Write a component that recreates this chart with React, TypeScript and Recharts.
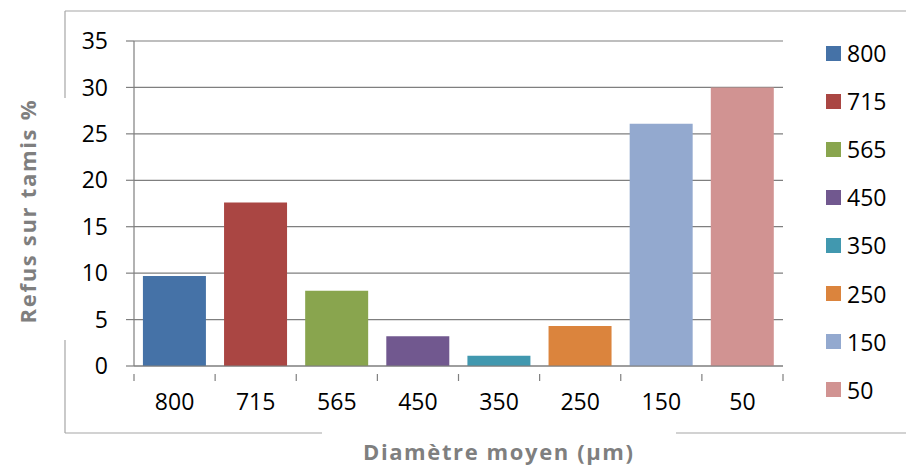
import { BarChart, Bar, Cell, XAxis, YAxis, CartesianGrid } from 'recharts';

// Diamètre moyen des tamis (µm) et refus correspondant (%)
const diametres = ['800', '715', '565', '450', '350', '250', '150', '50'];
const refus = [9.7, 17.6, 8.1, 3.2, 1.1, 4.3, 26.1, 30.0];
const couleurs = ['#4572A7', '#AA4643', '#89A54E', '#71588F', '#4198AF', '#DB843D', '#93A9CF', '#D19392'];
const yTicks = [0, 5, 10, 15, 20, 25, 30, 35];

const data = diametres.map((d, i) => ({ diametre: d, refus: refus[i] }));

const FONT = '"Open Sans", "Liberation Sans", sans-serif';
const AXIS = '#7f7f7f';
const FRAME = '#a6a6a6';
const LABEL_SIZE = 23;

// Label au centre de la catégorie, graduation à la limite entre catégories (style Excel)
function CategoryTick(props: any) {
    const { x, y, payload, index, visibleTicksCount } = props;
    const half = payload?.offset ?? 0;
    const last = index === (visibleTicksCount ?? diametres.length) - 1;
    return (
        <g>
            {half > 0 && <line x1={x - half} x2={x - half} y1={y} y2={y + 7} stroke={AXIS} strokeWidth={1.2} />}
            {half > 0 && last && <line x1={x + half} x2={x + half} y1={y} y2={y + 7} stroke={AXIS} strokeWidth={1.2} />}
            <text x={x} y={y + 36} textAnchor="middle" fontSize={LABEL_SIZE} fontFamily={FONT} fill="#000">
                {payload.value}
            </text>
        </g>
    );
}

export default function App() {
    return (
        <div style={{ position: 'absolute', left: 0, top: 0, width: 906, height: 471, background: '#fff', fontFamily: FONT }}>
            <svg width={906} height={471} style={{ position: 'absolute', left: 0, top: 0 }}>
                <line x1={65} x2={906} y1={11} y2={11} stroke={FRAME} strokeWidth={1.2} />
                <line x1={65} x2={65} y1={11} y2={98} stroke={FRAME} strokeWidth={1.2} />
                <line x1={65} x2={65} y1={340} y2={433} stroke={FRAME} strokeWidth={1.2} />
                <line x1={65} x2={322} y1={433} y2={433} stroke={FRAME} strokeWidth={1.2} />
                <line x1={676} x2={906} y1={433} y2={433} stroke={FRAME} strokeWidth={1.2} />
                <text
                    x={27}
                    y={212}
                    transform="rotate(-90 27 212)"
                    textAnchor="middle"
                    dominantBaseline="central"
                    fontSize={22}
                    fontWeight="bold"
                    fontFamily={FONT}
                    fill="#7f7f7f"
                    textLength={223}
                    lengthAdjust="spacing"
                >
                    Refus sur tamis %
                </text>
                <text
                    x={498}
                    y={451}
                    textAnchor="middle"
                    dominantBaseline="central"
                    fontSize={22}
                    fontWeight="bold"
                    fontFamily={FONT}
                    fill="#7f7f7f"
                    textLength={270}
                    lengthAdjust="spacing"
                >
                    Diamètre moyen (µm)
                </text>
            </svg>

            <div style={{ position: 'absolute', left: 0, top: 0 }}>
                <BarChart
                    width={906}
                    height={471}
                    data={data}
                    margin={{ top: 41, right: 123, left: 0, bottom: 65 }}
                    barCategoryGap="11%"
                >
                    <CartesianGrid vertical={false} stroke={AXIS} strokeWidth={1.2} />
                    <XAxis
                        dataKey="diametre"
                        height={40}
                        axisLine={{ stroke: AXIS, strokeWidth: 1.2 }}
                        tickLine={false}
                        tick={<CategoryTick />}
                        interval={0}
                    />
                    <YAxis
                        width={134}
                        domain={[0, 35]}
                        ticks={yTicks}
                        interval={0}
                        axisLine={{ stroke: AXIS, strokeWidth: 1.2 }}
                        tickLine={{ stroke: AXIS, strokeWidth: 1.2 }}
                        tickSize={8}
                        tickMargin={18}
                        tick={{ fontSize: LABEL_SIZE, fill: '#000', fontFamily: FONT }}
                    />
                    <Bar dataKey="refus" isAnimationActive={false}>
                        {data.map((d, i) => (
                            <Cell key={d.diametre} fill={couleurs[i]} />
                        ))}
                    </Bar>
                </BarChart>
            </div>

            {/* Légende */}
            {diametres.map((d, i) => (
                <div
                    key={d}
                    style={{
                        position: 'absolute',
                        left: 826,
                        top: 53 + i * 48.1 - 15,
                        height: 30,
                        display: 'flex',
                        alignItems: 'center',
                        fontSize: LABEL_SIZE,
                        color: '#000',
                    }}
                >
                    <span style={{ display: 'inline-block', width: 15, height: 15, background: couleurs[i], marginRight: 6 }} />
                    <span>{d}</span>
                </div>
            ))}
        </div>
    );
}
